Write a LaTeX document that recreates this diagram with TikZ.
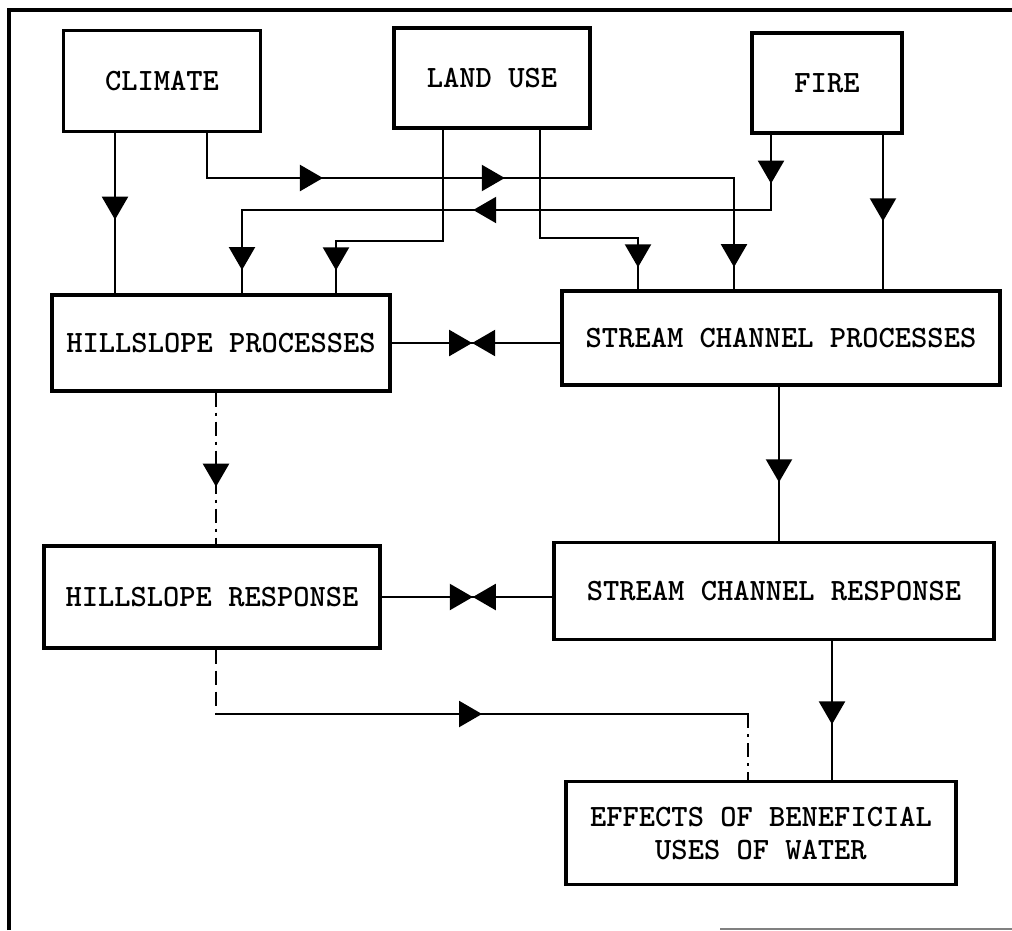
\documentclass[tikz,border=0pt]{standalone}
\usepackage{tikz}
\usetikzlibrary{arrows.meta,decorations.markings,calc}

\tikzset{
  box/.style={draw, line width=3.2pt, inner sep=0pt, align=center,
    font=\ttfamily\bfseries\fontsize{31}{33}\selectfont},
  conn/.style={line width=2.3pt, line cap=rect},
  tipat/.style={postaction={decorate, decoration={markings,
    mark=at position #1 with {\arrow{Triangle[width=26pt,length=23pt]}}}}},
  dashdot/.style={line cap=butt, dash pattern=on 14pt off 6pt on 3pt off 6pt},
  dashline/.style={line cap=butt, dash pattern=on 14pt off 7pt},
}

\begin{document}
\begin{tikzpicture}[x=1pt, y=-1pt]
    \useasboundingbox (0,0) rectangle (1012,930);

    % frame
    \draw[line width=3.4pt] (9,930) -- (9,10) -- (1012,10);
    \draw[gray, line width=1.4pt] (720,929) -- (1012,929);

    % driving factors
    \node[box, minimum width=197pt, minimum height=101pt] (clim) at (162,81) {CLIMATE};
    \node[box, minimum width=196pt, minimum height=100pt] (land) at (492,78) {LAND USE};
    \node[box, minimum width=150pt, minimum height=100pt] (fire) at (827,83) {FIRE};

    % processes and responses
    \node[box, minimum width=338pt, minimum height=96pt] (hp) at (221,343) {HILLSLOPE PROCESSES};
    \node[box, minimum width=438pt, minimum height=94pt] (scp) at (781,338) {STREAM CHANNEL PROCESSES};
    \node[box, minimum width=336pt, minimum height=102pt] (hr) at (212,597) {HILLSLOPE RESPONSE};
    \node[box, minimum width=440pt, minimum height=97pt] (scr) at (774,591) {STREAM CHANNEL RESPONSE};
    \node[box, minimum width=390pt, minimum height=103pt] (eff) at (761,833) {EFFECTS OF BENEFICIAL\\USES OF WATER};

    % bends
    \coordinate (clA) at (207,178);
    \coordinate (clB) at (734,178);
    \coordinate (luA) at (443,241);
    \coordinate (luB) at (336,241);
    \coordinate (luC) at (540,238);
    \coordinate (luD) at (638,238);
    \coordinate (fiA) at (771,210);
    \coordinate (fiB) at (242,210);
    \coordinate (hrA) at (216,714);
    \coordinate (hrB) at (748,714);

    % climate
    \draw[conn, tipat=0.54] (115,0 |- clim.south) -- (115,0 |- hp.north);
    \draw[conn] (clA |- clim.south) -- (clA);
    \draw[conn, tipat=0.22, tipat=0.565] (clA) -- (clB);
    \draw[conn, tipat=0.8] (clB) -- (clB |- scp.north);

    % land use
    \draw[conn] (luA |- land.south) -- (luA) -- (luB);
    \draw[conn, tipat=0.56] (luB) -- (luB |- hp.north);
    \draw[conn] (luC |- land.south) -- (luC) -- (luD);
    \draw[conn, tipat=0.57] (luD) -- (luD |- scp.north);

    % fire
    \draw[conn, tipat=0.65] (fiA |- fire.south) -- (fiA);
    \draw[conn, tipat=0.563] (fiA) -- (fiB);
    \draw[conn, tipat=0.72] (fiB) -- (fiB |- hp.north);
    \draw[conn, tipat=0.56] (883,0 |- fire.south) -- (883,0 |- scp.north);

    % exchanges between hillslope and channel
    \draw[conn, tipat=0.477] (hp.east) -- (hp.east -| scp.west);
    \draw[conn, tipat=0.523] (hp.east -| scp.west) -- (hp.east);
    \draw[conn, tipat=0.534] (hr.east) -- (hr.east -| scr.west);
    \draw[conn, tipat=0.466] (hr.east -| scr.west) -- (hr.east);

    % downward links
    \draw[conn, dashdot, tipat=0.62] (216,0 |- hp.south) -- (216,0 |- hr.north);
    \draw[conn, tipat=0.62] (779,0 |- scp.south) -- (779,0 |- scr.north);
    \draw[conn, dashline] (hrA |- hr.south) -- (hrA);
    \draw[conn, tipat=0.5] (hrA) -- (hrB);
    \draw[conn, dashdot] (hrB) -- (hrB |- eff.north);
    \draw[conn, tipat=0.6] (832,0 |- scr.south) -- (832,0 |- eff.north);

\end{tikzpicture}
\end{document}
